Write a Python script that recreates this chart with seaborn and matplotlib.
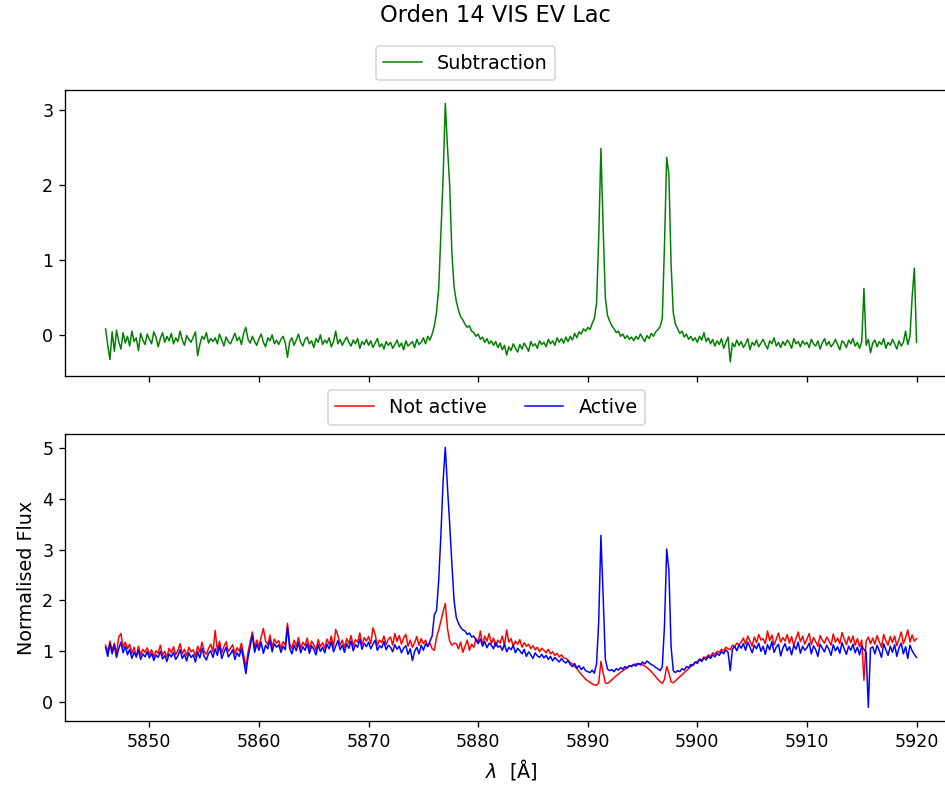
import numpy as np
import pandas as pd
import matplotlib
matplotlib.use('Agg')
import matplotlib.pyplot as plt
from matplotlib.ticker import MultipleLocator
import seaborn as sns

# wavelength grid of the resampled spectra (Angstrom)
wavelength = np.round(np.arange(5846.0, 5920.0 + 0.1, 0.2), 1)

# Active - Not active (rows of 2 A)
subtraction = [
    0.08, -0.14, -0.33, 0.04, -0.22, 0.06, -0.09, -0.19, 0.03, -0.11,
    -0.02, -0.15, 0.05, -0.09, -0.04, -0.21, 0.02, -0.07, -0.13, 0.01,
    -0.06, -0.12, 0.04, -0.03, -0.16, -0.05, 0.03, -0.10, -0.02, -0.08,
    0.02, -0.12, -0.04, -0.09, 0.05, -0.07, -0.14, -0.01, -0.06, -0.10,
    -0.03, 0.04, -0.28, -0.13, -0.02, -0.06, 0.03, -0.11, -0.05, -0.09,
    -0.04, -0.12, 0.01, -0.07, -0.15, -0.03, -0.09, -0.12, -0.05, 0.02,
    -0.08, -0.03, -0.13, 0.02, 0.10, -0.06, -0.11, -0.02, -0.09, -0.14,
    -0.05, 0.01, -0.10, -0.16, -0.04, -0.08, 0.00, -0.12, -0.07, -0.13,
    -0.06, -0.02, -0.11, -0.30, -0.09, -0.04, -0.14, -0.07, 0.01, -0.10,
    -0.15, -0.06, -0.03, -0.12, -0.08, -0.17, -0.05, -0.10, 0.00, -0.13,
    -0.07, -0.11, -0.04, -0.16, -0.09, 0.05, -0.12, -0.06, -0.14, -0.08,
    -0.03, -0.10, -0.15, -0.07, -0.12, -0.05, -0.18, -0.09, -0.13, -0.06,
    -0.14, -0.08, -0.17, -0.11, -0.05, -0.16, -0.12, -0.19, -0.09, -0.14,
    -0.10, -0.18, -0.13, -0.07, -0.16, -0.11, -0.20, -0.08, -0.15, -0.12,
    -0.09, -0.17, -0.06, -0.13, -0.10, -0.04, -0.12, -0.02, -0.07, 0.01,
    0.12, 0.30, 0.62, 1.35, 2.10, 3.09, 2.50, 2.00, 1.10, 0.64,
    0.45, 0.33, 0.24, 0.20, 0.14, 0.10, 0.12, 0.05, 0.03, -0.02,
    0.01, -0.06, -0.03, -0.10, -0.05, -0.12, -0.08, -0.14, -0.09, -0.17,
    -0.11, -0.20, -0.14, -0.27, -0.16, -0.21, -0.12, -0.18, -0.23, -0.13,
    -0.19, -0.11, -0.16, -0.22, -0.09, -0.15, -0.12, -0.18, -0.08, -0.13,
    -0.10, -0.16, -0.06, -0.12, -0.08, -0.14, -0.04, -0.10, -0.05, -0.11,
    -0.03, -0.09, -0.02, -0.07, 0.02, -0.04, 0.04, 0.01, 0.08, 0.05,
    0.10, 0.07, 0.15, 0.22, 0.42, 1.30, 2.49, 1.45, 0.50, 0.26,
    0.18, 0.12, 0.08, 0.03, 0.05, -0.02, 0.01, -0.05, -0.01, -0.06,
    -0.03, -0.08, -0.02, -0.06, 0.01, -0.04, -0.09, -0.01, -0.05, 0.02,
    -0.02, 0.04, 0.07, 0.11, 0.22, 1.20, 2.37, 2.15, 0.95, 0.30,
    0.14, 0.08, 0.02, 0.05, -0.03, 0.01, -0.06, -0.02, -0.08, -0.04,
    -0.10, -0.02, -0.07, 0.03, -0.09, -0.04, -0.12, -0.06, -0.15, -0.08,
    -0.13, -0.05, -0.18, -0.10, -0.03, -0.36, -0.11, -0.16, -0.07, -0.14,
    -0.09, -0.17, -0.12, -0.05, -0.20, -0.10, -0.14, -0.07, -0.16, -0.11,
    -0.06, -0.13, -0.19, -0.08, -0.12, -0.04, -0.15, -0.10, -0.17, -0.09,
    -0.14, -0.07, -0.11, -0.18, -0.05, -0.12, -0.09, -0.16, -0.08, -0.13,
    -0.10, -0.17, -0.06, -0.12, -0.15, -0.08, -0.19, -0.11, -0.05, -0.14,
    -0.09, -0.16, -0.12, -0.06, -0.13, -0.20, -0.08, -0.11, -0.17, -0.07,
    -0.12, -0.05, -0.15, -0.10, -0.18, -0.09, 0.62, -0.14, -0.06, -0.24,
    -0.11, -0.07, -0.16, -0.09, -0.13, -0.05, -0.18, -0.10, -0.14, -0.06,
    -0.12, -0.19, -0.08, -0.15, -0.10, 0.05, -0.13, -0.02, 0.51, 0.89,
    -0.10,
]

# normalised flux, quiet spectrum (red)
flux_not_active = [
    1.12, 0.98, 1.20, 1.02, 1.16, 0.95, 1.28, 1.35, 1.08, 1.18,
    1.05, 1.14, 0.96, 1.08, 0.88, 1.10, 0.93, 1.04, 0.98, 1.07,
    0.94, 1.03, 0.90, 1.01, 0.96, 1.12, 0.92, 1.00, 0.89, 1.06,
    0.97, 1.09, 0.93, 1.02, 1.15, 0.95, 1.04, 0.91, 1.08, 0.99,
    1.03, 0.90, 1.10, 0.98, 1.18, 1.00, 0.94, 1.06, 1.14, 0.99,
    1.41, 1.02, 1.20, 0.97, 1.09, 1.19, 1.00, 1.06, 1.13, 0.95,
    1.07, 1.00, 1.16, 0.92, 0.70, 0.98, 1.19, 1.38, 1.06, 1.22,
    1.10, 1.28, 1.45, 1.20, 1.13, 1.32, 1.08, 1.24, 1.16, 1.21,
    1.06, 1.19, 1.12, 1.55, 1.15, 1.05, 1.22, 1.10, 1.27, 1.06,
    1.18, 1.11, 1.26, 1.05, 1.20, 1.13, 1.02, 1.23, 1.09, 1.17,
    1.06, 1.24, 1.14, 1.30, 1.08, 1.43, 1.31, 1.12, 1.22, 1.07,
    1.25, 1.15, 1.31, 1.10, 1.23, 1.18, 1.36, 1.13, 1.27, 1.20,
    1.29, 1.15, 1.46, 1.33, 1.12, 1.22, 1.17, 1.30, 1.13, 1.24,
    1.28, 1.12, 1.35, 1.19, 1.31, 1.14, 1.26, 1.33, 1.10, 1.22,
    1.08, 1.17, 1.29, 1.12, 1.25, 1.15, 1.22, 1.10, 1.16, 1.05,
    1.02, 1.28, 1.42, 1.60, 1.78, 1.94, 1.45, 1.20, 1.12, 1.16,
    1.15, 1.05, 1.18, 0.98, 1.10, 1.22, 1.02, 1.14, 1.08, 1.25,
    1.18, 1.40, 1.12, 1.30, 1.20, 1.35, 1.15, 1.26, 1.10, 1.22,
    1.16, 1.30, 1.12, 1.42, 1.18, 1.25, 1.10, 1.20, 1.14, 1.23,
    1.08, 1.17, 1.10, 1.14, 1.05, 1.11, 1.03, 1.08, 0.99, 1.06,
    1.02, 0.97, 1.04, 0.95, 0.99, 0.92, 0.96, 0.89, 0.93, 0.87,
    0.86, 0.82, 0.78, 0.75, 0.70, 0.66, 0.60, 0.55, 0.50, 0.45,
    0.42, 0.39, 0.36, 0.34, 0.33, 0.38, 0.80, 0.58, 0.38, 0.37,
    0.40, 0.44, 0.48, 0.52, 0.55, 0.59, 0.62, 0.65, 0.68, 0.71,
    0.72, 0.74, 0.75, 0.76, 0.75, 0.73, 0.71, 0.68, 0.64, 0.60,
    0.55, 0.50, 0.45, 0.40, 0.37, 0.45, 0.70, 0.58, 0.40, 0.38,
    0.42, 0.46, 0.50, 0.54, 0.58, 0.62, 0.66, 0.70, 0.74, 0.78,
    0.80, 0.85, 0.83, 0.89, 0.87, 0.93, 0.90, 0.97, 0.94, 1.00,
    0.98, 1.04, 1.01, 1.08, 1.05, 1.03, 1.12, 1.09, 1.16, 1.13,
    1.18, 1.26, 1.14, 1.30, 1.20, 1.10, 1.28, 1.17, 1.33, 1.22,
    1.25, 1.15, 1.40, 1.21, 1.32, 1.12, 1.24, 1.36, 1.18, 1.27,
    1.20, 1.33, 1.16, 1.29, 1.11, 1.25, 1.38, 1.19, 1.30, 1.14,
    1.24, 1.35, 1.13, 1.27, 1.19, 1.10, 1.31, 1.22, 1.16, 1.28,
    1.21, 1.12, 1.34, 1.18, 1.26, 1.15, 1.37, 1.24, 1.13, 1.29,
    1.17, 1.30, 1.12, 1.25, 1.09, 1.22, 0.43, 1.20, 1.28, 1.15,
    1.26, 1.14, 1.31, 1.19, 1.08, 1.33, 1.21, 1.12, 1.29, 1.17,
    1.30, 1.11, 1.24, 1.38, 1.15, 1.27, 1.42, 1.18, 1.32, 1.20,
    1.25,
]

# normalised flux, flaring spectrum (blue)
flux_active = [
    1.08, 0.90, 1.15, 0.95, 1.12, 0.88, 1.05, 1.18, 0.97, 1.10,
    0.93, 1.04, 0.86, 0.98, 0.90, 1.02, 0.84, 0.95, 0.89, 0.99,
    0.87, 0.96, 0.82, 0.93, 0.88, 1.00, 0.85, 0.92, 0.80, 0.95,
    0.89, 0.98, 0.84, 0.91, 1.03, 0.86, 0.94, 0.81, 0.97, 0.88,
    0.93, 0.79, 0.99, 0.87, 1.06, 0.90, 0.83, 0.96, 1.01, 0.88,
    1.05, 0.92, 1.12, 0.86, 0.98, 1.08, 0.89, 0.95, 1.03, 0.84,
    0.97, 0.90, 1.06, 0.82, 0.56, 0.88, 1.10, 1.32, 0.98, 1.14,
    1.02, 1.18, 0.96, 1.12, 1.05, 1.22, 0.99, 1.15, 1.08, 1.13,
    0.98, 1.10, 1.03, 1.48, 1.06, 0.95, 1.12, 1.01, 1.17, 0.97,
    1.09, 1.02, 1.15, 0.96, 1.11, 1.04, 0.93, 1.13, 1.00, 1.08,
    0.97, 1.14, 1.05, 1.19, 0.99, 1.10, 1.21, 1.03, 1.12, 0.98,
    1.15, 1.06, 1.20, 1.01, 1.13, 1.08, 1.24, 1.04, 1.16, 1.09,
    1.18, 1.05, 1.14, 1.22, 1.02, 1.11, 1.07, 1.19, 1.03, 1.12,
    1.08, 0.99, 1.13, 1.04, 1.10, 0.97, 1.06, 1.11, 0.94, 1.05,
    0.82, 1.00, 1.08, 0.95, 1.12, 1.02, 1.15, 1.09, 1.20, 1.30,
    1.72, 1.80, 2.40, 3.30, 4.35, 5.01, 4.22, 3.50, 2.72, 2.00,
    1.67, 1.55, 1.47, 1.42, 1.40, 1.33, 1.36, 1.28, 1.30, 1.22,
    1.15, 1.24, 1.10, 1.19, 1.07, 1.16, 1.12, 1.05, 1.18, 1.08,
    1.11, 1.02, 1.14, 0.99, 1.08, 1.03, 1.12, 0.97, 1.06, 1.01,
    0.95, 1.04, 0.90, 0.99, 0.93, 0.86, 0.97, 0.91, 0.88, 0.94,
    0.87, 0.92, 0.84, 0.90, 0.81, 0.88, 0.83, 0.79, 0.86, 0.80,
    0.77, 0.82, 0.74, 0.70, 0.76, 0.67, 0.72, 0.64, 0.69, 0.62,
    0.60, 0.58, 0.63, 0.57, 0.75, 1.60, 3.28, 2.10, 0.85, 0.65,
    0.62, 0.64, 0.60, 0.66, 0.63, 0.68, 0.65, 0.70, 0.67, 0.72,
    0.70, 0.74, 0.71, 0.76, 0.73, 0.79, 0.75, 0.81, 0.77, 0.74,
    0.72, 0.68, 0.66, 0.62, 0.70, 1.50, 3.01, 2.60, 1.10, 0.62,
    0.58, 0.62, 0.60, 0.66, 0.63, 0.70, 0.68, 0.74, 0.72, 0.79,
    0.76, 0.84, 0.80, 0.87, 0.83, 0.90, 0.86, 0.93, 0.89, 0.96,
    0.92, 1.00, 0.95, 1.03, 0.98, 0.62, 1.04, 1.10, 1.01, 1.13,
    1.06, 1.15, 1.02, 1.18, 1.08, 0.97, 1.12, 1.05, 1.16, 1.00,
    1.10, 0.94, 1.13, 1.03, 1.19, 0.98, 1.08, 1.14, 0.91, 1.06,
    1.15, 1.01, 1.09, 0.93, 1.12, 1.04, 1.18, 0.96, 1.10, 1.02,
    1.07, 1.16, 0.95, 1.11, 1.03, 0.90, 1.14, 1.06, 0.99, 1.12,
    1.04, 0.92, 1.13, 1.01, 1.09, 0.96, 1.17, 1.05, 0.94, 1.10,
    1.02, 1.14, 0.97, 1.08, 0.93, 1.11, 1.04, 0.98, -0.10, 1.06,
    1.09, 0.95, 1.12, 1.01, 0.88, 1.15, 1.03, 0.92, 1.10, 0.98,
    1.13, 0.90, 1.07, 1.16, 0.95, 1.09, 0.86, 1.12, 1.01, 0.94,
    0.88,
]

spec = pd.DataFrame({
    'wavelength': wavelength,
    'subtraction': subtraction,
    'not_active': flux_not_active,
    'active': flux_active,
})

plt.rcParams['xtick.labelsize'] = 10.5
plt.rcParams['ytick.labelsize'] = 10.5
plt.rcParams['axes.labelsize'] = 11.5
plt.rcParams['legend.fontsize'] = 11.5

DPI = 120
fig = plt.figure(figsize=(945 / DPI, 786 / DPI), dpi=DPI)
# right spine falls just outside the canvas, as in the reference
ax_top = fig.add_axes([0.0688, 0.5216, 0.944, 0.364])
ax_bot = fig.add_axes([0.0688, 0.0827, 0.944, 0.365], sharex=ax_top)

# top panel: difference spectrum
sns.lineplot(data=spec, x='wavelength', y='subtraction', color='green',
             lw=0.9, label='Subtraction', ax=ax_top)
ax_top.set_ylim(-0.55, 3.27)
ax_top.yaxis.set_major_locator(MultipleLocator(1))
ax_top.set_xlabel('')
ax_top.set_ylabel('')
ax_top.tick_params(labelbottom=False)
ax_top.legend(loc='lower center', bbox_to_anchor=(0.449, 1.0))

# bottom panel: both spectra
sns.lineplot(data=spec, x='wavelength', y='not_active', color='red',
             lw=0.9, label='Not active', ax=ax_bot)
sns.lineplot(data=spec, x='wavelength', y='active', color='blue',
             lw=0.9, label='Active', ax=ax_bot)
ax_bot.set_ylim(-0.37, 5.27)
ax_bot.set_xlim(5842.3, 5923.7)
ax_bot.set_xlabel(r'$\lambda$  [Å]')
ax_bot.set_ylabel('Normalised Flux')
ax_bot.legend(loc='lower center', bbox_to_anchor=(0.4725, 1.0), ncol=2)

fig.suptitle('Orden 14 VIS EV Lac', x=0.524, y=0.995, fontsize=13.5)

fig.savefig('out.png', dpi=DPI)
